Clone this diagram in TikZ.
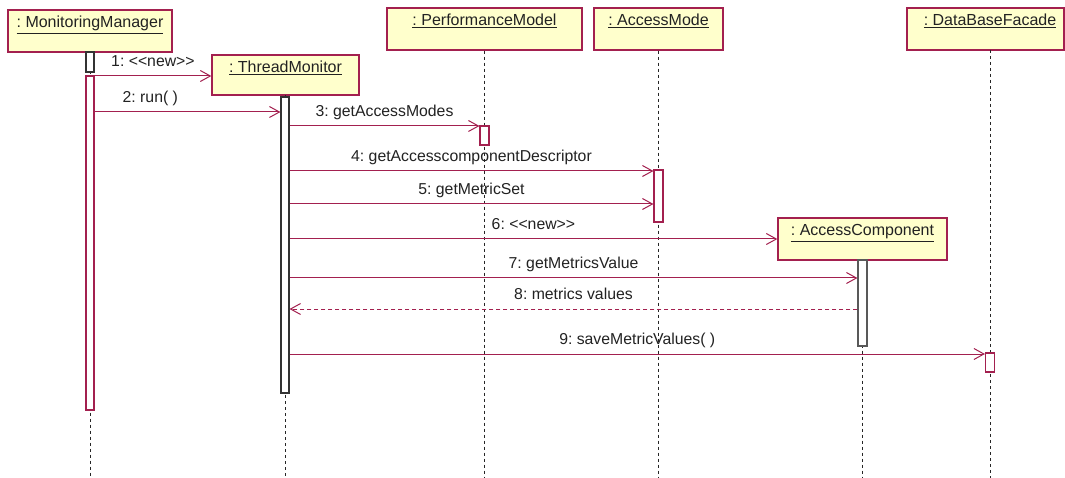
\documentclass[tikz,border=0pt]{standalone}
\usepackage{fontspec}
\setmainfont{Liberation Sans}
\usetikzlibrary{arrows.meta}
\definecolor{umlred}{HTML}{A3204F}
\definecolor{umlfill}{HTML}{FFFFCC}
\definecolor{ink}{HTML}{222222}
\frenchspacing
\begin{document}
\begin{tikzpicture}[x=1pt,y=-1pt,
  objbox/.style={draw=umlred, fill=umlfill, line width=1.3pt, inner sep=0pt},
  objname/.style={anchor=base, inner sep=0pt, text=ink, font=\fontsize{16}{19}\selectfont},
  life/.style={draw=black!85, line width=0.9pt, dash pattern=on 3pt off 3pt},
  actred/.style={draw=umlred, fill=white, line width=1.1pt, minimum width=8pt, inner sep=0pt},
  actblk/.style={draw=black!80, fill=white, line width=1.1pt, minimum width=8pt, inner sep=0pt},
  msg/.style={draw=umlred, line width=1pt, -{Straight Barb[length=10pt,width=11pt]}},
  ret/.style={msg, dash pattern=on 4pt off 3pt},
  lbl/.style={text=ink, font=\fontsize{15.8}{19}\selectfont, inner sep=0pt, text depth=0pt, above=9pt}
]
\useasboundingbox (0,0) rectangle (1065,478);
\fill[white] (0,0) rectangle (1065,478);

% object boxes
\node[objbox, minimum width=164pt, minimum height=42pt] (mm) at (90,31) {};
\node[objbox, minimum width=147pt, minimum height=40pt] (tm) at (285.5,75) {};
\node[objbox, minimum width=195pt, minimum height=42pt] (pm) at (484.5,29) {};
\node[objbox, minimum width=129pt, minimum height=42pt] (am) at (658.5,29) {};
\node[objbox, minimum width=157pt, minimum height=42pt] (db) at (985.5,29) {};
\node[objbox, minimum width=169pt, minimum height=42pt] (ac) at (862.5,239) {};

\node[objname] (mmT) at (90,28) {\underline{: MonitoringManager}};
\node[objname] (tmT) at (285.5,73) {\underline{: ThreadMonitor}};
\node[objname] (pmT) at (484.5,26) {\underline{: PerformanceModel}};
\node[objname] (amT) at (658.5,26) {\underline{: AccessMode}};
\node[objname] (dbT) at (990,26) {\underline{: DataBaseFacade}};
\node[objname] (acT) at (862.5,236) {\underline{: AccessComponent}};

% lifelines
\draw[life] (mm.south) -- (mm.south |- 0,478);
\draw[life] (285,95) -- (285,478);
\draw[life] (pm.south) -- (pm.south |- 0,478);
\draw[life] (am.south) -- (am.south |- 0,478);
\draw[life] (990,50) -- (990,478);
\draw[life] (ac.south) -- (ac.south |- 0,478);

% activations
\node[actblk, minimum height=20pt] (mmA0) at (90,62) {};
\node[actred, minimum height=334pt] (mmA) at (90,243) {};
\node[actblk, minimum height=296pt] (tmA) at (285,245) {};
\node[actred, minimum width=9pt, minimum height=19pt] (pmA) at (484.5,135.5) {};
\node[actred, minimum width=9pt, minimum height=52pt] (amA) at (658.5,196) {};
\node[actblk, draw=black!65, minimum width=9pt, minimum height=86pt] (acA) at (862.5,303) {};
\node[actred, minimum width=9pt, minimum height=19pt] (dbA) at (990,362.5) {};

% messages
\draw[msg] (mmA.east |- 0,76) -- node[lbl] {1: {<}{<}new{>}{>}} (tm.west |- 0,76);
\draw[msg] (mmA.east |- 0,112) -- node[lbl, pos=0.3] {2: run( )} (tmA.west |- 0,112);
\draw[msg] (tmA.east |- 0,126) -- node[lbl] {3: getAccessModes} (pmA.west |- 0,126);
\draw[msg] (tmA.east |- 0,171) -- node[lbl] {4: getAccesscomponentDescriptor} (amA.west |- 0,171);
\draw[msg] (tmA.east |- 0,204) -- node[lbl] {5: getMetricSet} (amA.west |- 0,204);
\draw[msg] (tmA.east |- 0,239) -- node[lbl] {6: {<}{<}new{>}{>}} (ac.west);
\draw[msg] (tmA.east |- 0,278) -- node[lbl] {7: getMetricsValue} (acA.west |- 0,278);
\draw[ret] (acA.west |- 0,309) -- node[lbl] {8: metrics values} (tmA.east |- 0,309);
\draw[msg] (tmA.east |- 0,354) -- node[lbl] {9: saveMetricValues( )} (dbA.west |- 0,354);
\end{tikzpicture}
\end{document}
